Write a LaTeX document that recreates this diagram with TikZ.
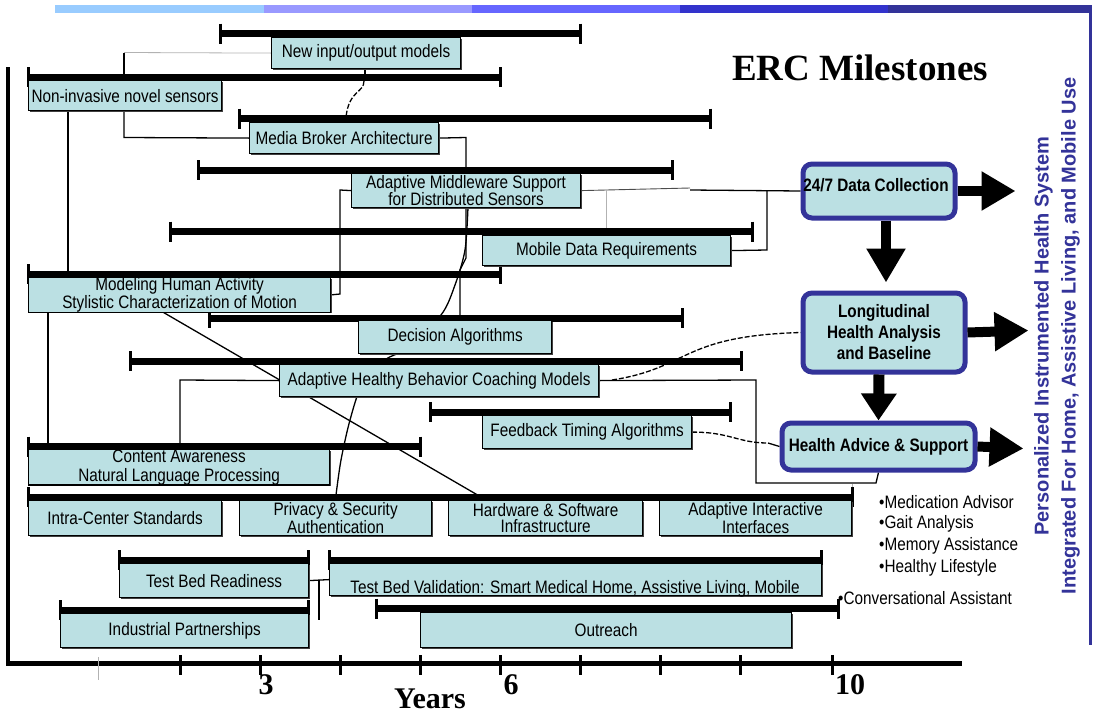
\documentclass[tikz,border=0pt]{standalone}
\usepackage{fontspec}
\setmainfont{Liberation Sans}
\newfontfamily\nsf[FakeStretch=0.85]{Liberation Sans}
\newfontfamily\serf{Liberation Serif}
\usetikzlibrary{arrows.meta,shadows}
\definecolor{boxc}{HTML}{BBE0E3}
\definecolor{navy}{HTML}{333399}
\definecolor{sa}{HTML}{99CCFF}
\definecolor{sb}{HTML}{9999FF}
\definecolor{sc}{HTML}{6666FF}
\definecolor{sd}{HTML}{3333CC}
\definecolor{se}{HTML}{333399}
\newcommand\bx{\nsf\fontsize{18}{16}\selectfont}
\newcommand\bxb{\nsf\bfseries\fontsize{18}{21}\selectfont}
\newcommand\axf{\serf\bfseries\fontsize{30}{30}\selectfont}
\pgfdeclarelayer{bg}
\pgfdeclarelayer{mid}
\pgfsetlayers{bg,mid,main}
\tikzset{
  box/.style={draw=black, line width=1.2pt, fill=boxc, inner sep=0pt, align=center,
    font=\bx, anchor=north west,
    drop shadow={shadow xshift=1.3pt, shadow yshift=-1.3pt, fill=black!75, opacity=1}},
  bigbox/.style={draw=navy, line width=5pt, fill=boxc, rounded corners=9pt, inner sep=0pt,
    align=center, font=\bxb, anchor=north west},
  tbar/.style={line width=7pt},
  tcap/.style={line width=3pt},
  conn/.style={line width=1.3pt},
  dconn/.style={line width=1.3pt, dash pattern=on 5pt off 2pt},
  gline/.style={line width=0.8pt, black!30},
  thinl/.style={line width=0.9pt, black!70},
  bigarrow/.style={line width=10pt, -{Triangle[length=34pt,width=37pt]}},
  midarrow/.style={line width=11pt, -{Triangle[length=27pt,width=34pt]}},
  tick/.style={line width=3pt},
  blist/.style={font=\bx, anchor=west, inner sep=0pt}
}
\newcommand\tlbar[3]{%
  \draw[tbar] (#1,#3) -- (#2,#3);
  \draw[tcap] (#1,{#3-10}) -- (#1,{#3+10});
  \draw[tcap] (#2,{#3-10}) -- (#2,{#3+10});}
\begin{document}
\begin{tikzpicture}[x=1pt,y=-1pt]
\useasboundingbox (0,0) rectangle (1096,715);
% top stripe and right border
\fill[sa] (55,5) rectangle (264,13);
\fill[sb] (264,5) rectangle (472,13);
\fill[sc] (472,5) rectangle (680,13);
\fill[sd] (680,5) rectangle (888,13);
\fill[se] (888,5) rectangle (1092,13);
\draw[navy, line width=3pt] (1090.5,12) -- (1090.5,645);

% title
\node[font=\serf\bfseries\fontsize{37}{40}\selectfont] (title) at (860,68) {ERC Milestones};

% axes
\draw[line width=4.5pt] (8,67) -- (8,665);
\draw[line width=5pt] (6,663) -- (962,663);
\draw[line width=0.8pt, black!30] (98,657) -- (98,680);
\foreach \t in {180,260,340,420,500,580,660,740,832} \draw[tick] (\t,655) -- (\t,675);
\node[font=\axf] (l3) at (266,685) {3};
\node[font=\axf] (l6) at (511,685) {6};
\node[font=\axf] (l10) at (850,685) {10};
\node[font=\axf, anchor=base] (yrs) at (430,708) {Years};

% boxes
\node[box, minimum width=189pt, minimum height=31pt] (nio) at (271,37) {New input/output models};
\node[box, minimum width=193pt, minimum height=30pt] (nis) at (28,80) {Non-invasive novel sensors};
\node[box, minimum width=189pt, minimum height=31pt] (mba) at (249,122) {Media Broker Architecture};
\node[box, minimum width=229pt, minimum height=34pt] (ams) at (351,173) {Adaptive Middleware Support\\[-1pt]for Distributed Sensors};
\node[box, minimum width=248pt, minimum height=30pt] (mdr) at (482,235) {Mobile Data Requirements};
\node[box, minimum width=302pt, minimum height=34pt] (mha) at (28,277) {Modeling Human Activity\\Stylistic Characterization of Motion};
\node[box, minimum width=193pt, minimum height=33pt] (dal) at (358,320) {Decision Algorithms};
\node[box, minimum width=319pt, minimum height=32pt] (ahb) at (279,364) {Adaptive Healthy Behavior Coaching Models};
\node[box, minimum width=209pt, minimum height=33pt] (fta) at (482,415) {Feedback Timing Algorithms};
\node[box, minimum width=301pt, minimum height=34pt] (cal) at (28,449) {Content Awareness\\[3pt]Natural Language Processing};
\node[box, minimum width=193pt, minimum height=35pt] (ics) at (28,500) {Intra-Center Standards};
\node[box, minimum width=192pt, minimum height=35pt] (pas) at (239,500) {Privacy \& Security\\Authentication};
\node[box, minimum width=194pt, minimum height=35pt] (hsi) at (448,500) {Hardware \& Software\\Infrastructure};
\node[box, minimum width=192pt, minimum height=35pt] (aii) at (659,500) {Adaptive Interactive\\Interfaces};
\node[box, minimum width=189pt, minimum height=34pt] (tbr) at (119,563) {Test Bed Readiness};
\node[box, minimum width=492pt, minimum height=32pt] (tbv) at (329,563) {};
\node[font=\bx, anchor=base, inner sep=0pt] (tbvt) at (575,593) {Test Bed Validation: Smart Medical Home, Assistive Living, Mobile};
\node[box, minimum width=248pt, minimum height=34pt] (ipa) at (60,613) {Industrial Partnerships};
\node[box, minimum width=371pt, minimum height=35pt] (out) at (420,612) {Outreach};

% big boxes
\node[bigbox, minimum width=152pt, minimum height=54pt] (dc) at (800.5,161.5) {};
\node[font=\bxb, inner sep=0pt] (dct) at (876,185) {24/7 Data Collection};
\node[bigbox, minimum width=162pt, minimum height=79pt] (lh) at (800.5,290.5) {Longitudinal\\Health Analysis\\and Baseline};
\node[bigbox, minimum width=193pt, minimum height=47pt] (ha) at (779.5,420.5) {Health Advice \& Support};

% big arrows
\draw[bigarrow] (dc.east) -- ++(58,0);
\draw[bigarrow] ([xshift=7pt]dc.south) -- ++(0,62);
\draw[bigarrow] (lh.east) -- ++(61,-2);
\draw[midarrow] ([xshift=-5pt]lh.south) -- (ha.north);
\draw[bigarrow] (ha.east) -- ++(46,2);

% side text
\node[rotate=90, text=navy, font=\bfseries\fontsize{20}{27}\selectfont, align=center] (side) at (1057,336)
  {Personalized Instrumented Health System\\Integrated For Home, Assistive Living, and Mobile Use};

% bullet list
\node[blist] (b1) at (879,502) {•Medication Advisor};
\node[blist] (b2) at (879,524) {•Gait Analysis};
\node[blist] (b3) at (879,546) {•Memory Assistance};
\node[blist] (b4) at (879,568) {•Healthy Lifestyle};
\node[blist] (b5) at (838,598) {•Conversational Assistant};

% timeline bars
\begin{pgfonlayer}{mid}
\tlbar{220}{580}{33.5}
\tlbar{28}{500}{77}
\tlbar{239}{710}{118.5}
\tlbar{198}{672}{170}
\tlbar{170}{752}{231.5}
\tlbar{28}{500}{274}
\tlbar{209}{682}{318}
\tlbar{130}{741}{361}
\tlbar{430}{730}{412}
\tlbar{28}{420}{446.5}
\tlbar{28}{852}{497}
\tlbar{119}{308}{560}
\tlbar{329}{821}{560}
\tlbar{60}{308}{610}
\tlbar{376}{838}{608.5}
\end{pgfonlayer}

% connectors
\begin{pgfonlayer}{bg}
\coordinate (k1) at (124,52.5);
\draw[gline] (nio.west) -- (k1);
\draw[conn] (k1) -- (124,77);
\draw[conn] (365,68) -- (365,77);
\draw[dconn] (364,81) .. controls (364,93) and (349,90) .. (346,117);
\draw[conn] (68,110) -- (68,274);
\draw[conn] (124,110) -- (124,137.5) -- (mba.west);
\draw[conn] (mba.east) -- (466,137.5) -- (466,258) -- (460,270) -- (460,318);
\draw[conn] (ams.west) -- (340,190) -- (340,294) -- (mha.east);
\draw[thinl] (ams.east) -- (690,188);
\draw[conn] (690,190) -- (dc.west);
\draw[gline] (606,190) -- (606,231);
\draw[conn] (mdr.east) -- (767,250) -- (767,190);
\draw[conn] (48,311) -- (48,446.5);
\draw[conn] (161,311) -- (481,497);
\draw[conn] (ahb.west) -- (180,380) -- (180,446.5);
\draw[conn] (ahb.east) -- (756,380) -- (756,483) -- (876,483) -- (ha.south);
\draw[dconn] (612,380) .. controls (690,368) and (680,336) .. (lh.west);
\draw[dconn] (fta.east) .. controls (730,432) and (738,443) .. (768,443);
\draw[conn] (768,443) -- (ha.west);
\draw[conn] (tbr.east) -- (tbv.west);
\draw[conn] (319,580) -- (319,620);
\draw[gline] (852,484) -- (852,494);
\draw[conn] plot[smooth] coordinates {(468,207) (465,250) (455,285) (441,315) (405,349) (385,360) (362,385) (350,420) (341,460) (336,495)};
\end{pgfonlayer}
\end{tikzpicture}
\end{document}
